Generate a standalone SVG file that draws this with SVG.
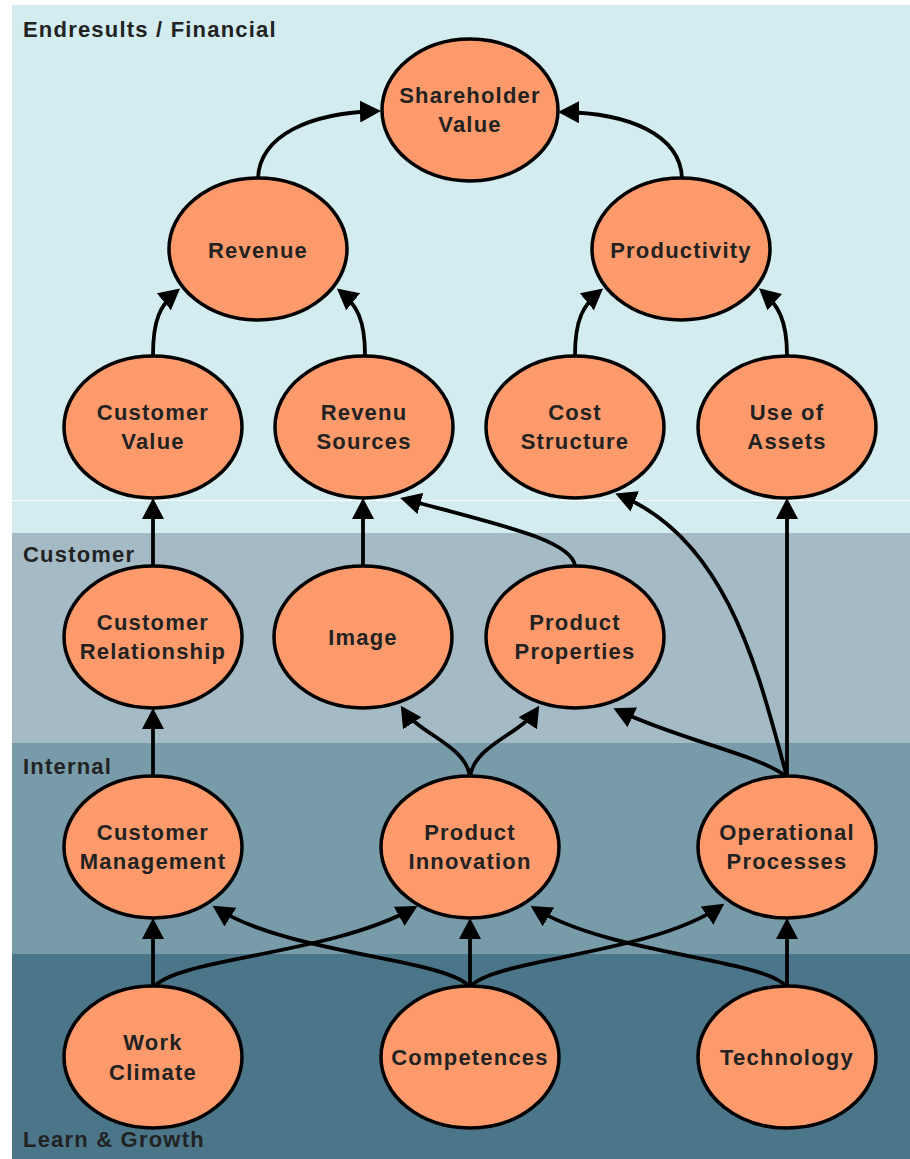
<svg xmlns="http://www.w3.org/2000/svg" width="910" height="1159" viewBox="0 0 910 1159">
  <style>
    .node ellipse { fill: #fc9a6c; stroke: #000; stroke-width: 3.5; }
    .node text, .band-label { font-family: "Liberation Sans", Arial, sans-serif; font-weight: bold; font-size: 22px; letter-spacing: 1.2px; fill: #222; }
    .node text { text-anchor: middle; }
    .edge { fill: none; stroke: #000; stroke-width: 3.8; marker-end: url(#arrow); }
  </style>
  <defs>
    <marker id="arrow" markerUnits="userSpaceOnUse" markerWidth="22" markerHeight="22" refX="17" refY="11" orient="auto">
      <path d="M0,0 L21,11 L0,22 z" fill="#000"/>
    </marker>
  </defs>

  <!-- perspective bands -->
  <rect x="0" y="0" width="910" height="1159" fill="#fff"/>
  <g id="bands">
    <rect x="12" y="5" width="898" height="528" fill="#d3ecf0"/>
    <rect x="12" y="500" width="898" height="1" fill="#fff"/>
    <rect x="12" y="533" width="898" height="210" fill="#a4bac4"/>
    <rect x="12" y="743" width="898" height="211" fill="#789ba9"/>
    <rect x="12" y="954" width="898" height="205" fill="#4b768a"/>
    <text class="band-label" x="23" y="37">Endresults / Financial</text>
    <text class="band-label" x="23" y="562">Customer</text>
    <text class="band-label" x="23" y="774">Internal</text>
    <text class="band-label" x="23" y="1147">Learn &amp; Growth</text>
  </g>

  <!-- cause-and-effect links -->
  <g id="connectors">
    <path class="edge" d="M258,178 C260,135 310,113 377,111"/>
    <path class="edge" d="M682,178 C680,135 630,113 562,112"/>
    <path class="edge" d="M153,355 C153,320 160,305 177,291"/>
    <path class="edge" d="M365,355 C365,320 357,305 340,291"/>
    <path class="edge" d="M575,355 C575,320 583,305 600,291"/>
    <path class="edge" d="M787,355 C787,320 778,305 762,291"/>
    <path class="edge" d="M153,566 L153,502"/>
    <path class="edge" d="M363,566 L363,502"/>
    <path class="edge" d="M575,566 C572,540 500,525 404,499"/>
    <path class="edge" d="M787,777 C760,680 730,540 619,495"/>
    <path class="edge" d="M787,777 L787,502"/>
    <path class="edge" d="M787,777 C760,755 680,740 617,710"/>
    <path class="edge" d="M470,777 C466,745 420,735 403,709"/>
    <path class="edge" d="M470,777 C474,745 520,735 537,709"/>
    <path class="edge" d="M153,777 L153,712"/>
    <path class="edge" d="M153,987 L153,922"/>
    <path class="edge" d="M470,987 L470,922"/>
    <path class="edge" d="M787,987 L787,922"/>
    <path class="edge" d="M153,988 C175,958 330,955 414,908"/>
    <path class="edge" d="M470,987 C445,958 290,955 216,908"/>
    <path class="edge" d="M470,987 C495,958 650,955 721,906"/>
    <path class="edge" d="M787,987 C762,958 610,955 534,908"/>
  </g>

  <!-- financial -->
  <g id="shareholder-value" class="node">
    <ellipse cx="470" cy="110" rx="88" ry="71"/>
    <text x="470" y="103">Shareholder</text>
    <text x="470" y="132">Value</text>
  </g>
  <g id="revenue" class="node">
    <ellipse cx="258" cy="249" rx="89" ry="71"/>
    <text x="258" y="258">Revenue</text>
  </g>
  <g id="productivity" class="node">
    <ellipse cx="681" cy="249" rx="89" ry="71"/>
    <text x="681" y="258">Productivity</text>
  </g>
  <g id="customer-value" class="node">
    <ellipse cx="153" cy="427" rx="89" ry="71"/>
    <text x="153" y="420">Customer</text>
    <text x="153" y="449">Value</text>
  </g>
  <g id="revenu-sources" class="node">
    <ellipse cx="364" cy="427" rx="89" ry="71"/>
    <text x="364" y="420">Revenu</text>
    <text x="364" y="449">Sources</text>
  </g>
  <g id="cost-structure" class="node">
    <ellipse cx="575" cy="427" rx="89" ry="71"/>
    <text x="575" y="420">Cost</text>
    <text x="575" y="449">Structure</text>
  </g>
  <g id="use-of-assets" class="node">
    <ellipse cx="787" cy="427" rx="89" ry="71"/>
    <text x="787" y="420">Use of</text>
    <text x="787" y="449">Assets</text>
  </g>

  <!-- customer -->
  <g id="customer-relationship" class="node">
    <ellipse cx="153" cy="637" rx="89" ry="71"/>
    <text x="153" y="630">Customer</text>
    <text x="153" y="659">Relationship</text>
  </g>
  <g id="image" class="node">
    <ellipse cx="363" cy="637" rx="89" ry="71"/>
    <text x="363" y="645">Image</text>
  </g>
  <g id="product-properties" class="node">
    <ellipse cx="575" cy="637" rx="89" ry="71"/>
    <text x="575" y="630">Product</text>
    <text x="575" y="659">Properties</text>
  </g>

  <!-- internal -->
  <g id="customer-management" class="node">
    <ellipse cx="153" cy="847" rx="89" ry="71"/>
    <text x="153" y="840">Customer</text>
    <text x="153" y="869">Management</text>
  </g>
  <g id="product-innovation" class="node">
    <ellipse cx="470" cy="847" rx="89" ry="71"/>
    <text x="470" y="840">Product</text>
    <text x="470" y="869">Innovation</text>
  </g>
  <g id="operational-processes" class="node">
    <ellipse cx="787" cy="847" rx="89" ry="71"/>
    <text x="787" y="840">Operational</text>
    <text x="787" y="869">Processes</text>
  </g>

  <!-- learn & growth -->
  <g id="work-climate" class="node">
    <ellipse cx="153" cy="1057" rx="89" ry="71"/>
    <text x="153" y="1050">Work</text>
    <text x="153" y="1080">Climate</text>
  </g>
  <g id="competences" class="node">
    <ellipse cx="470" cy="1057" rx="89" ry="71"/>
    <text x="470" y="1065">Competences</text>
  </g>
  <g id="technology" class="node">
    <ellipse cx="787" cy="1057" rx="89" ry="71"/>
    <text x="787" y="1065">Technology</text>
  </g>
</svg>
